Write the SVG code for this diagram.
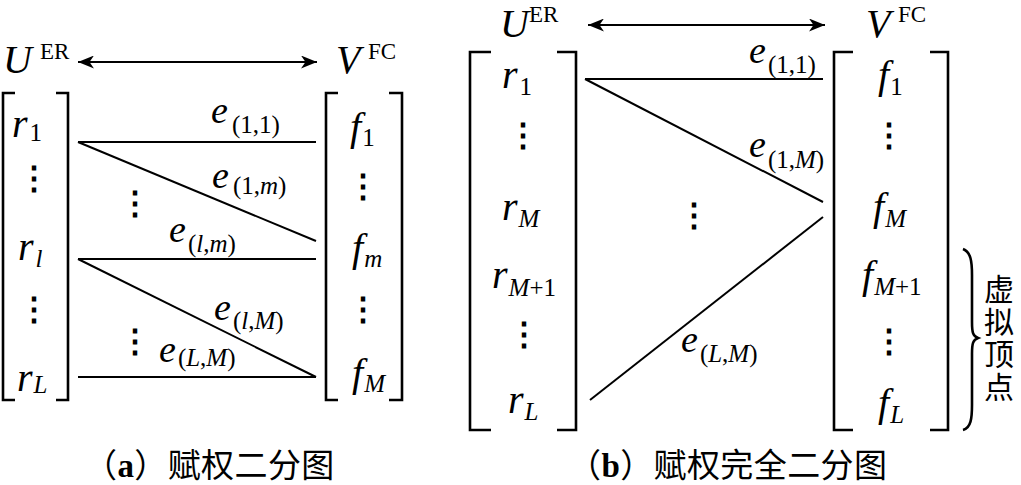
<svg xmlns="http://www.w3.org/2000/svg" width="1021" height="485" viewBox="0 0 1021 485">
<defs>
<style>
.v{font-family:"Liberation Serif","Times New Roman",serif;font-style:italic;font-size:40px;fill:#000}
.e{font-family:"Liberation Serif","Times New Roman",serif;font-style:italic;font-size:38px;fill:#000}
.sub{font-family:"Liberation Serif","Times New Roman",serif;font-style:normal;font-size:25px}
.si{font-style:italic}
.sup{font-family:"Liberation Serif","Times New Roman",serif;font-style:normal;font-size:23px;fill:#000}
.dots{font-family:"DejaVu Serif",serif;font-size:32px;font-weight:bold;text-anchor:middle;fill:#000}
.br{fill:none;stroke:#000;stroke-width:2.6}
.edge{stroke:#000;stroke-width:2;fill:none}
.arr{stroke:#000;stroke-width:2;marker-start:url(#ah);marker-end:url(#ah)}
.cap{font-family:"Liberation Serif","Noto Sans CJK SC",sans-serif;font-size:33px;letter-spacing:0.4px;fill:#000}
.cjk{font-family:"Noto Sans CJK SC",sans-serif;font-size:30px;letter-spacing:2.5px;fill:#000;writing-mode:vertical-rl}
</style>
<marker id="ah" markerUnits="userSpaceOnUse" markerWidth="17" markerHeight="13" refX="16" refY="6.5" orient="auto-start-reverse">
<path d="M0,0 L16,6.5 L0,13 L4.5,6.5 Z" fill="#000"/>
</marker>
</defs>
<rect width="1021" height="485" fill="#fff"/>

<!-- Panel (a) -->
<g id="a-U"><text class="v" x="3" y="73">U</text><text class="sup" x="40" y="59">ER</text></g>
<g id="a-V"><text class="v" x="336" y="73">V</text><text class="sup" x="368" y="59">FC</text></g>
<g id="a-left">
<path class="br" d="M15,93 H3 V400 H15 M56,93 H68 V400 H56"/>
<text class="v" x="12" y="137">r<tspan class="sub" dx="2" dy="4">1</tspan></text>
<text class="dots" x="34" y="189">⋮</text>
<text class="v" x="18" y="260">r<tspan class="sub si" dx="2" dy="7">l</tspan></text>
<text class="dots" x="34" y="320">⋮</text>
<text class="v" x="17" y="391">r<tspan class="sub si" dx="1" dy="2">L</tspan></text>
</g>
<g id="a-right">
<path class="br" d="M338,93 H326 V400 H338 M389,93 H402 V400 H389"/>
<text class="v" x="350" y="140">f<tspan class="sub" dx="1" dy="6">1</tspan></text>
<text class="dots" x="363" y="197">⋮</text>
<text class="v" x="352" y="261">f<tspan class="sub si" dx="1" dy="6">m</tspan></text>
<text class="dots" x="363" y="320">⋮</text>
<text class="v" x="352" y="386">f<tspan class="sub si" dx="1" dy="6">M</tspan></text>
</g>
<g id="a-connectors">
<line class="arr" x1="78" y1="62" x2="317" y2="62"/>
<line class="edge" x1="78" y1="142" x2="316" y2="142"/>
<line class="edge" x1="78" y1="142" x2="316" y2="241"/>
<line class="edge" x1="78" y1="259" x2="316" y2="259"/>
<line class="edge" x1="78" y1="259" x2="316" y2="377"/>
<line class="edge" x1="78" y1="377" x2="316" y2="377"/>
<text class="e" x="211" y="123">e<tspan class="sub" dx="4" dy="10">(1,1)</tspan></text>
<text class="e" x="212" y="188">e<tspan class="sub" dx="4" dy="6">(1,<tspan class="si">m</tspan>)</tspan></text>
<text class="e" x="169" y="242">e<tspan class="sub" dx="2" dy="10">(<tspan class="si">l</tspan>,<tspan class="si">m</tspan>)</tspan></text>
<text class="e" x="214" y="320">e<tspan class="sub" dx="2" dy="9">(<tspan class="si">l</tspan>,<tspan class="si">M</tspan>)</tspan></text>
<text class="e" x="159" y="362">e<tspan class="sub" dx="2" dy="4">(<tspan class="si">L</tspan>,<tspan class="si">M</tspan>)</tspan></text>
<text class="dots" x="135" y="214">⋮</text>
<text class="dots" x="135" y="352">⋮</text>
</g>
<text id="a-caption" class="cap" x="84" y="477">（<tspan font-weight="bold">a</tspan>）赋权二分图</text>

<!-- Panel (b) -->
<g id="b-U"><text class="v" x="500" y="37">U</text><text class="sup" x="529" y="22">ER</text></g>
<g id="b-V"><text class="v" x="866" y="37">V</text><text class="sup" x="898" y="22">FC</text></g>
<g id="b-left">
<path class="br" d="M491,52 H470 V430 H491 M557,52 H576 V430 H557"/>
<text class="v" x="502" y="88">r<tspan class="sub" dx="2" dy="7">1</tspan></text>
<text class="dots" x="523" y="146">⋮</text>
<text class="v" x="502" y="220">r<tspan class="sub si" dx="1" dy="7">M</tspan></text>
<text class="v" x="492" y="288">r<tspan class="sub" dx="1" dy="8"><tspan class="si">M</tspan>+1</tspan></text>
<text class="dots" x="524" y="345">⋮</text>
<text class="v" x="508" y="413">r<tspan class="sub si" dx="1" dy="7">L</tspan></text>
</g>
<g id="b-right">
<path class="br" d="M853,52 H834 V430 H853 M930,52 H948 V430 H930"/>
<text class="v" x="878" y="88">f<tspan class="sub" dx="1" dy="7">1</tspan></text>
<text class="dots" x="889" y="146">⋮</text>
<text class="v" x="873" y="220">f<tspan class="sub si" dx="1" dy="7">M</tspan></text>
<text class="v" x="862" y="288">f<tspan class="sub" dx="1" dy="7"><tspan class="si">M</tspan>+1</tspan></text>
<text class="dots" x="889" y="352">⋮</text>
<text class="v" x="878" y="416">f<tspan class="sub si" dx="1" dy="7">L</tspan></text>
</g>
<g id="b-connectors">
<line class="arr" x1="588" y1="25" x2="825" y2="25"/>
<line class="edge" x1="585" y1="79" x2="823" y2="79"/>
<line class="edge" x1="585" y1="79" x2="823" y2="202"/>
<line class="edge" x1="590" y1="400" x2="823" y2="217"/>
<text class="e" x="749" y="63">e<tspan class="sub" dx="2" dy="10">(1,1)</tspan></text>
<text class="e" x="749" y="157">e<tspan class="sub" dx="2" dy="11">(1,<tspan class="si">M</tspan>)</tspan></text>
<text class="e" x="681" y="352">e<tspan class="sub" dx="2" dy="10">(<tspan class="si">L</tspan>,<tspan class="si">M</tspan>)</tspan></text>
<text class="dots" x="694" y="226">⋮</text>
</g>
<g id="b-virtual">
<path class="br" d="M963,249 C971,252 972,262 972,275 L972,322 C972,333 973,336 978,338 C973,340 972,343 972,354 L972,405 C972,418 971,428 963,430"/>
<text class="cjk" x="999" y="274">虚拟顶点</text>
</g>
<text id="b-caption" class="cap" x="568" y="477">（<tspan font-weight="bold">b</tspan>）赋权完全二分图</text>
</svg>
